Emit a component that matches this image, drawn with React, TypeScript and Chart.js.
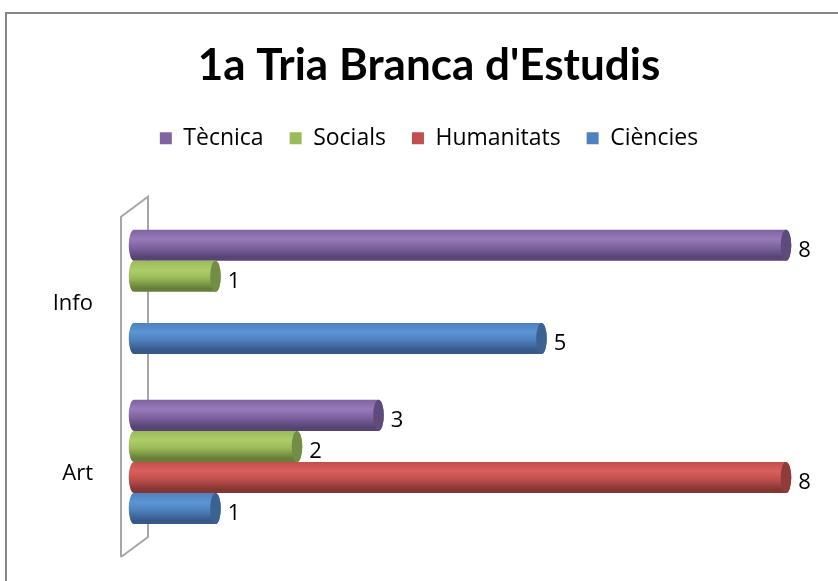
import React, { useEffect, useRef } from 'react';
import { Chart, registerables } from 'chart.js';

Chart.register(...registerables);

// ---- data ----
const categories = ['Info', 'Art'];
const seriesNames = ['Tècnica', 'Socials', 'Humanitats', 'Ciències'];
const tecnica = [8, 3];
const socials = [1, 2];
const humanitats: (number | null)[] = [null, 8];
const ciencies = [5, 1];
const axisMin = 0;
const axisMax = 8;

// ---- styles ----
const baseColors = ['#8064A2', '#9BBB59', '#C0504D', '#4F81BD'];
const lightColors = ['#977AB9', '#AECD6A', '#DA5F5C', '#5C95D5'];
const darkColors = ['#574473', '#687F3A', '#853634', '#37598A'];
const capColors = ['#5E4A7B', '#728D45', '#8F3B39', '#3C6193'];

const TITLE_FONT = 'Lato, "Open Sans", sans-serif';
const FONT = '"Open Sans", "Noto Sans", sans-serif';

const cylinderPlugin = {
  id: 'cylinders',
  beforeDatasetsDraw(chart: any) {
    const { ctx, chartArea } = chart;
    const l = chartArea.left;
    const t = chartArea.top;
    const b = chartArea.bottom;
    ctx.save();
    ctx.strokeStyle = '#A6A6A6';
    ctx.lineWidth = 2;
    ctx.beginPath();
    ctx.moveTo(l - 13, b + 10);
    ctx.lineTo(l - 13, t + 10);
    ctx.lineTo(l + 14, t - 10);
    ctx.lineTo(l + 14, b - 10);
    ctx.lineTo(l - 13, b + 10);
    ctx.stroke();
    ctx.restore();
  },
  beforeDatasetDraw() {
    return false;
  },
  afterDatasetsDraw(chart: any) {
    const ctx = chart.ctx;
    ctx.save();
    chart.data.datasets.forEach((ds: any, di: number) => {
      const meta = chart.getDatasetMeta(di);
      if (meta.hidden) return;
      meta.data.forEach((bar: any, i: number) => {
        const v = ds.data[i];
        if (v == null) return;
        const { x, y, base, height } = bar.getProps(['x', 'y', 'base', 'height'], true);
        const top = y - height / 2;
        const bot = y + height / 2;
        const ry = height / 2;
        const rx = Math.max(4, height * 0.17);
        const g = ctx.createLinearGradient(0, top, 0, bot);
        g.addColorStop(0, baseColors[di]);
        g.addColorStop(0.3, lightColors[di]);
        g.addColorStop(0.55, baseColors[di]);
        g.addColorStop(0.88, darkColors[di]);
        g.addColorStop(1, darkColors[di]);
        ctx.beginPath();
        ctx.moveTo(x, top);
        ctx.lineTo(base, top);
        ctx.ellipse(base, y, rx, ry, 0, -Math.PI / 2, Math.PI / 2, true);
        ctx.lineTo(x, bot);
        ctx.ellipse(x, y, rx, ry, 0, Math.PI / 2, -Math.PI / 2, true);
        ctx.closePath();
        ctx.fillStyle = g;
        ctx.fill();
        // right cap
        ctx.beginPath();
        ctx.ellipse(x, y, rx, ry, 0, 0, Math.PI * 2);
        ctx.fillStyle = capColors[di];
        ctx.fill();
        // value label
        ctx.fillStyle = '#000000';
        ctx.font = '22px ' + FONT;
        ctx.textAlign = 'left';
        ctx.textBaseline = 'middle';
        ctx.fillText(String(v), x + rx + 7, y + 5);
      });
    });
    ctx.restore();
  },
};

export default function App() {
  const ref = useRef<HTMLCanvasElement | null>(null);

  useEffect(() => {
    if (!ref.current) return;
    const seriesData = [tecnica, socials, humanitats, ciencies];
    const chart = new Chart(ref.current, {
      type: 'bar',
      data: {
        labels: categories,
        datasets: seriesNames.map((name, i) => ({
          label: name,
          data: seriesData[i],
          backgroundColor: baseColors[i],
          borderWidth: 0,
          categoryPercentage: 0.73,
          barPercentage: 1,
        })),
      },
      options: {
        indexAxis: 'y',
        animation: false,
        responsive: false,
        maintainAspectRatio: false,
        layout: { padding: { top: 0, left: 20, right: 0, bottom: 34 } },
        plugins: {
          title: {
            display: true,
            text: "1a Tria Branca d'Estudis",
            color: '#000000',
            font: { family: TITLE_FONT, size: 44, weight: 'bold' },
            padding: { top: 39, bottom: 9 },
          },
          legend: {
            display: true,
            position: 'top',
            labels: {
              color: '#000000',
              font: { family: FONT, size: 23 },
              boxWidth: 12,
              boxHeight: 12,
              padding: 26,
            },
          },
          tooltip: { enabled: false },
        },
        scales: {
          x: {
            type: 'linear',
            position: 'top',
            min: axisMin,
            max: axisMax,
            grid: { display: false, drawTicks: false },
            border: { display: false },
            ticks: { display: false },
            afterFit(scale: any) {
              scale.height = 47;
              scale.paddingLeft = 0;
              scale.paddingRight = 0;
            },
          },
          y: {
            type: 'category',
            grid: { display: false, drawTicks: false },
            border: { display: false },
            ticks: {
              color: '#000000',
              font: { family: FONT, size: 22 },
              padding: 41,
              labelOffset: 12,
            },
            afterFit(scale: any) {
              scale.width = 114;
              scale.paddingTop = 0;
              scale.paddingBottom = 0;
            },
          },
          yr: {
            type: 'category',
            axis: 'y',
            position: 'right',
            grid: { display: false, drawTicks: false },
            border: { display: false },
            ticks: { display: false },
            afterFit(scale: any) {
              scale.width = 52;
              scale.paddingTop = 0;
              scale.paddingBottom = 0;
            },
          },
        },
      },
      plugins: [cylinderPlugin],
    } as any);
    return () => chart.destroy();
  }, []);

  return (
    <div style={{ position: 'absolute', left: 0, top: 0, width: 838, height: 581, overflow: 'hidden', background: '#ffffff' }}>
      <canvas ref={ref} width={838} height={581} style={{ position: 'absolute', left: 0, top: 0, width: 838, height: 581 }} />
      <div
        style={{
          position: 'absolute',
          left: 5,
          top: 12,
          width: 1000,
          height: 1000,
          border: '2px solid #878787',
          boxSizing: 'border-box',
          pointerEvents: 'none',
        }}
      />
    </div>
  );
}
